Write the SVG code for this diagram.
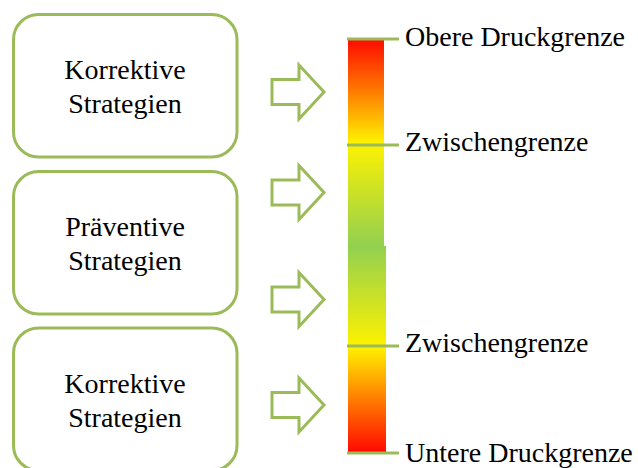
<svg xmlns="http://www.w3.org/2000/svg" width="638" height="468" viewBox="0 0 638 468">
  <style>
    .box { fill: #ffffff; stroke: #9BBB59; stroke-width: 3; }
    .arrow { fill: #ffffff; stroke: #9BBB59; stroke-width: 3; stroke-linejoin: miter; }
    .tick { stroke: #9BBB59; stroke-width: 3; }
    .label { font-family: 'Liberation Serif', 'DejaVu Serif', serif; font-size: 28px; fill: #000000; }
    .mid { text-anchor: middle; }
  </style>
  <defs>
    <linearGradient id="gradUpper" x1="0" y1="0" x2="0" y2="1">
      <stop offset="0" stop-color="#FF0A00"/>
      <stop offset="0.25" stop-color="#FF7A00"/>
      <stop offset="0.5" stop-color="#FFF200"/>
      <stop offset="1" stop-color="#92D050"/>
    </linearGradient>
    <linearGradient id="gradLower" x1="0" y1="0" x2="0" y2="1">
      <stop offset="0" stop-color="#92D050"/>
      <stop offset="0.49" stop-color="#FFF200"/>
      <stop offset="0.75" stop-color="#FF7A00"/>
      <stop offset="1" stop-color="#FF0A00"/>
    </linearGradient>
    <path id="arrowShape" d="M272,-12.5 H299 V-27 L324,0 L299,27 V12.5 H272 Z"/>
  </defs>

  <!-- strategy boxes -->
  <g id="node-korrektiv-oben">
    <rect class="box" x="13.5" y="14.5" width="223.5" height="142.5" rx="25" ry="25"/>
    <text class="label mid" font-family="Liberation Serif, serif" x="125" y="79">Korrektive</text>
    <text class="label mid" font-family="Liberation Serif, serif" x="125" y="113">Strategien</text>
  </g>
  <g id="node-praeventiv">
    <rect class="box" x="13.5" y="171.5" width="223.5" height="142.5" rx="25" ry="25"/>
    <text class="label mid" font-family="Liberation Serif, serif" x="125" y="235.5">Präventive</text>
    <text class="label mid" font-family="Liberation Serif, serif" x="125" y="269.5">Strategien</text>
  </g>
  <g id="node-korrektiv-unten">
    <rect class="box" x="13.5" y="328" width="223.5" height="142.5" rx="25" ry="25"/>
    <text class="label mid" font-family="Liberation Serif, serif" x="125" y="392.5">Korrektive</text>
    <text class="label mid" font-family="Liberation Serif, serif" x="125" y="426.5">Strategien</text>
  </g>

  <!-- block arrows pointing to the pressure scale -->
  <g id="connectors">
    <use href="#arrowShape" class="arrow" transform="translate(0,92)"/>
    <use href="#arrowShape" class="arrow" transform="translate(0,192.5)"/>
    <use href="#arrowShape" class="arrow" transform="translate(0,299.5)"/>
    <use href="#arrowShape" class="arrow" transform="translate(0,405)"/>
  </g>

  <!-- pressure scale -->
  <g id="node-skala">
    <rect x="348" y="39" width="36" height="207" fill="url(#gradUpper)"/>
    <rect x="348" y="246" width="38" height="206" fill="url(#gradLower)"/>
    <line class="tick" x1="347" y1="39" x2="399" y2="39"/>
    <line class="tick" x1="347" y1="145" x2="399" y2="145"/>
    <line class="tick" x1="347" y1="346" x2="399" y2="346"/>
    <line class="tick" x1="347" y1="453" x2="399" y2="453"/>
    <text class="label" font-family="Liberation Serif, serif" x="405" y="46">Obere Druckgrenze</text>
    <text class="label" font-family="Liberation Serif, serif" x="405" y="151">Zwischengrenze</text>
    <text class="label" font-family="Liberation Serif, serif" x="405" y="352">Zwischengrenze</text>
    <text class="label" font-family="Liberation Serif, serif" x="405" y="462">Untere Druckgrenze</text>
  </g>
</svg>
